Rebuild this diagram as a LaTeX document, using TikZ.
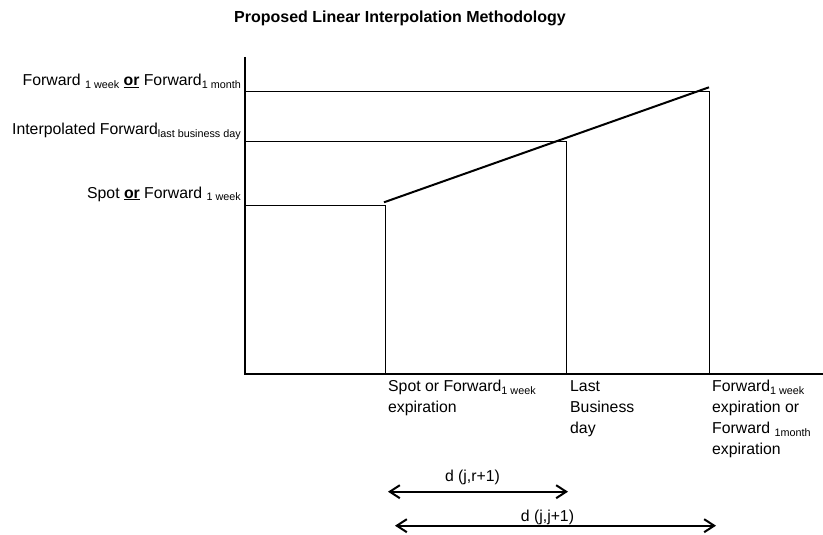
\documentclass[tikz,border=0pt]{standalone}
\usepackage{fontspec}
\setmainfont{Liberation Sans}
\usetikzlibrary{arrows.meta}
% lowered small text for subscripts
\newcommand{\lowsub}[1]{\raisebox{-2.5pt}{\fontsize{10.8}{11}\selectfont #1}}
\newcommand{\oru}{\underline{\textbf{or}}}
\begin{document}
\begin{tikzpicture}[x=1pt,y=-1pt,
  lbl/.style={font=\fontsize{15.8}{21}\selectfont, inner sep=0pt},
  axis/.style={line width=2.5pt},
  level/.style={line width=1pt},
  slope/.style={line width=2pt},
  span/.style={line width=2pt, {Straight Barb[length=10pt,width=13pt,line width=2pt]}-{Straight Barb[length=10pt,width=13pt,line width=2pt]}}]
\useasboundingbox (0,0) rectangle (823,535);

% title
\node[lbl, font=\fontsize{16}{18}\bfseries\selectfont, anchor=base] (title) at (400,23) {Proposed Linear Interpolation Methodology};

% axes
\coordinate (origin) at (245,374);
\coordinate (ytop) at (245,57);
\coordinate (xend) at (823,374);
\draw[axis] (ytop) -- (origin) -- (xend);

% level lines with their drop lines
\coordinate (a1) at (245,205.5); \coordinate (a2) at (385.5,205.5); \coordinate (a3) at (385.5,374);
\coordinate (b1) at (245,141);   \coordinate (b2) at (566.7,141);   \coordinate (b3) at (566.7,374);
\coordinate (c1) at (245,92);    \coordinate (c2) at (709.3,92);    \coordinate (c3) at (709.3,374);
\draw[level] (a1) -- (a2) -- (a3);
\draw[level] (b1) -- (b2) -- (b3);
\draw[level] (c1) -- (c2) -- (c3);

% interpolation line
\coordinate (s0) at (384,202.3);
\coordinate (s1) at (709,87.3);
\draw[slope] (s0) -- (s1);

% y labels
\node[lbl, anchor=base east] (ly1) at (241,86) {Forward \lowsub{1 week} \oru{} Forward\lowsub{1 month}};
\node[lbl, anchor=base east] (ly2) at (241,135) {Interpolated Forward\lowsub{last business day}};
\node[lbl, anchor=base east] (ly3) at (241,198) {Spot \oru{} Forward \lowsub{1 week}};

% x labels
\node[lbl, anchor=north west, align=left] (lx1) at (388,380) {Spot or Forward\lowsub{1 week}\\expiration};
\node[lbl, anchor=north west, align=left] (lx2) at (570,380) {Last\\Business\\day};
\node[lbl, anchor=north west, align=left] (lx3) at (712,380) {Forward\lowsub{1 week}\\expiration or\\Forward \lowsub{1month}\\expiration};

% spans
\coordinate (p1) at (388,491.7); \coordinate (q1) at (568,491.7);
\coordinate (p2) at (395,525.7); \coordinate (q2) at (716,525.7);
\draw[span] (p1) -- (q1);
\draw[span] (p2) -- (q2);
\node[lbl, anchor=base] (d1) at (472.5,481) {d (j,r+1)};
\node[lbl, anchor=base] (d2) at (547.5,521) {d (j,j+1)};
\end{tikzpicture}
\end{document}
